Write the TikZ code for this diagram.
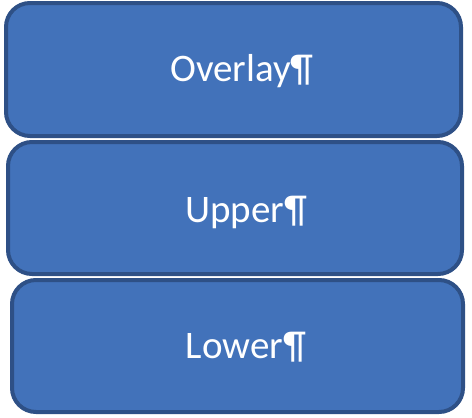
\documentclass[tikz,border=0pt]{standalone}
\usepackage{fontspec}
\setmainfont{Carlito}
\definecolor{boxfill}{RGB}{66,114,186}
\definecolor{boxline}{RGB}{46,80,134}
\begin{document}
\begin{tikzpicture}[x=1pt,y=1pt,
  layerbox/.style={draw=boxline, fill=boxfill, line width=4pt, rounded corners=24pt},
  layerlabel/.style={text=white, font=\fontsize{39}{44}\selectfont, inner sep=0pt}]
\useasboundingbox (0,0) rectangle (472,-418);
\draw[layerbox] (6,-3) rectangle (461,-136);
\draw[layerbox] (8,-142) rectangle (462,-274);
\draw[layerbox] (12,-280) rectangle (463,-412);
\node[layerlabel] (overlay) at (242,-71) {Overlay¶};
\node[layerlabel] (upper) at (246,-212) {Upper¶};
\node[layerlabel] (lower) at (246,-347) {Lower¶};
\end{tikzpicture}
\end{document}
